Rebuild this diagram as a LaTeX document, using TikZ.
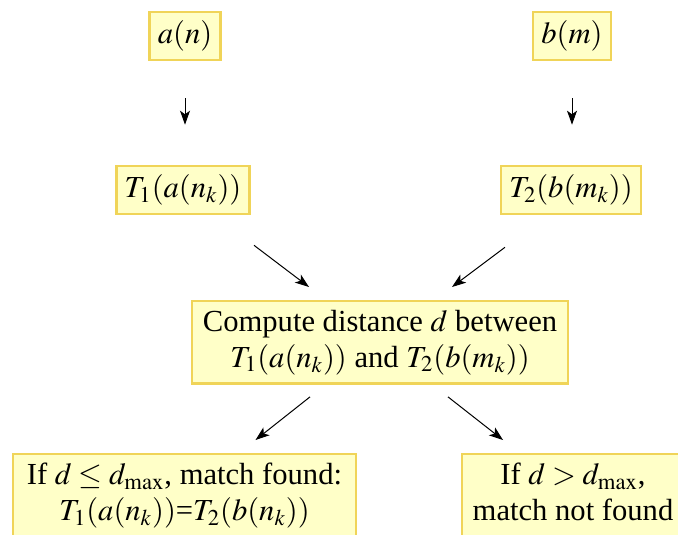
\documentclass[tikz,border=0pt]{standalone}
\usepackage{mathptmx}
\usepackage{fontspec}
\setmainfont{Liberation Serif}
\usepackage{tikz}
\usetikzlibrary{arrows.meta,positioning,calc}
\definecolor{boxfill}{HTML}{FFFFC8}
\definecolor{boxline}{HTML}{F0D458}

\begin{document}
\begin{tikzpicture}[x=0.5pt,y=-0.5pt,
		s/.style={draw=boxline,line width=1.2pt,fill=boxfill,align=center,
				inner xsep=4.2pt,inner ysep=4.4pt,font=\fontsize{15.3}{18}\selectfont},
		a/.style={-{Stealth[length=7pt,width=5pt,inset=1.8pt]},line width=0.5pt}
		]
		\useasboundingbox (0,0) rectangle (678,534);
		\clip (0,0) rectangle (678,534);
		\node[s] (an) at (185,36) {$a(n)$};
		\node[s] (bm) at (572,36) {$b(m)$};
		\node[s] (ta) at (183,190) {$T_1(a(n_k))$};
		\node[s] (tb) at (571,190) {$T_2(b(m_k))$};
		\node[s,anchor=north,minimum width=188pt] (cd) at (380,300) {Compute distance $d$ between\\$T_1(a(n_k))$ and $T_2(b(m_k))$};
		\node[s,anchor=north,text depth=22pt,minimum width=171.5pt] (yes) at (184.5,453) {If $d\le d_{\max}$, match found:\\$T_1(a(n_k))$=$T_2(b(n_k))$};
		\node[s,anchor=north,text depth=22pt,minimum width=111pt] (no) at (573,453) {If $d>d_{\max}$,\\match not found};
		\draw[a,shorten <=18.5pt,shorten >=20pt] (an) -- (an|-ta.north);
		\draw[a,shorten <=18.5pt,shorten >=20pt] (bm) -- (bm|-tb.north);
		\draw[a] ([shift={(71,30)}]ta.south) -- ([shift={(-71,-13)}]cd.north);
		\draw[a] ([shift={(-66,32)}]tb.south) -- ([shift={(72,-13)}]cd.north);
		\draw[a] ([shift={(-70,12)}]cd.south) -- ([shift={(71,-13)}]yes.north);
		\draw[a] ([shift={(68,12)}]cd.south) -- ([shift={(-70,-13)}]no.north);
	\end{tikzpicture}
\end{document}
